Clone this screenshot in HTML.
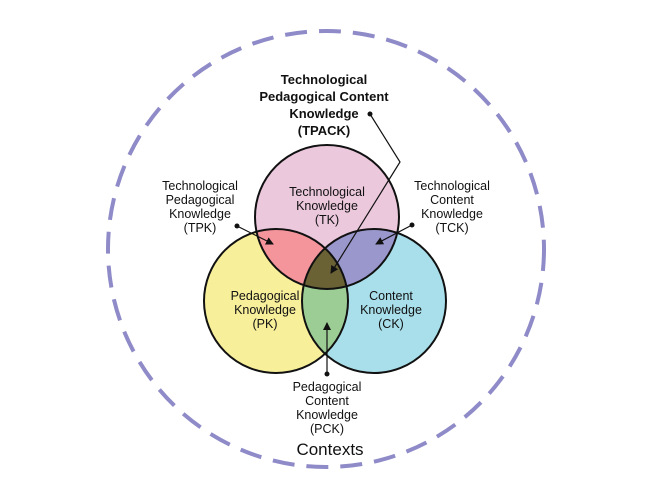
<!DOCTYPE html>
<html><head><style>body{margin:0;background:#fff}svg{display:block}text{font-family:"Liberation Sans",sans-serif;fill:#111}</style></head><body>
<svg width="648" height="504" viewBox="0 0 648 504" xmlns="http://www.w3.org/2000/svg">
<defs>
<clipPath id="tk"><circle cx="327" cy="217" r="72"/></clipPath>
<clipPath id="pk"><circle cx="276" cy="301" r="72"/></clipPath>
<clipPath id="ck"><circle cx="374" cy="301" r="72"/></clipPath>
<marker id="ar" markerWidth="8" markerHeight="8" refX="7" refY="4" orient="auto" markerUnits="userSpaceOnUse"><path d="M0,0 L8,4 L0,8z" fill="#111"/></marker>
</defs>
<circle cx="326" cy="249" r="218" fill="none" stroke="#8f8bc8" stroke-width="4" stroke-dasharray="22 12"/>
<circle cx="327" cy="217" r="72" fill="#ecc8dd"/>
<circle cx="276" cy="301" r="72" fill="#f8ef9b"/>
<circle cx="374" cy="301" r="72" fill="#a9dfea"/>
<circle cx="276" cy="301" r="72" fill="#f4949b" clip-path="url(#tk)"/>
<circle cx="374" cy="301" r="72" fill="#9a97cc" clip-path="url(#tk)"/>
<circle cx="374" cy="301" r="72" fill="#9ccd95" clip-path="url(#pk)"/>
<g clip-path="url(#tk)"><circle cx="374" cy="301" r="72" fill="#6a6235" clip-path="url(#pk)"/></g>
<g fill="none" stroke="#111" stroke-width="2">
<circle cx="327" cy="217" r="72"/><circle cx="276" cy="301" r="72"/><circle cx="374" cy="301" r="72"/>
</g>
<g stroke="#111" stroke-width="1.2" fill="none">
<polyline points="370,114 400,162 331,273" marker-end="url(#ar)"/>
<line x1="237" y1="226" x2="273" y2="244" marker-end="url(#ar)"/>
<line x1="412" y1="225" x2="376" y2="244" marker-end="url(#ar)"/>
<line x1="327" y1="374" x2="327" y2="323" marker-end="url(#ar)"/>
</g>
<g fill="#111"><circle cx="370" cy="114" r="2.5"/><circle cx="237" cy="226" r="2.5"/><circle cx="412" cy="225" r="2.5"/><circle cx="327" cy="374" r="2.5"/></g>
<g font-size="13" text-anchor="middle" font-weight="bold">
<text x="324" y="84">Technological</text><text x="324" y="101">Pedagogical Content</text><text x="324" y="118">Knowledge</text><text x="324" y="135">(TPACK)</text>
</g>
<g font-size="12.5" text-anchor="middle">
<text x="327" y="196">Technological</text><text x="327" y="210">Knowledge</text><text x="327" y="224">(TK)</text>
<text x="200" y="190">Technological</text><text x="200" y="204">Pedagogical</text><text x="200" y="218">Knowledge</text><text x="200" y="232">(TPK)</text>
<text x="452" y="190">Technological</text><text x="452" y="204">Content</text><text x="452" y="218">Knowledge</text><text x="452" y="232">(TCK)</text>
<text x="265" y="300">Pedagogical</text><text x="265" y="314">Knowledge</text><text x="265" y="328">(PK)</text>
<text x="391" y="300">Content</text><text x="391" y="314">Knowledge</text><text x="391" y="328">(CK)</text>
<text x="327" y="391">Pedagogical</text><text x="327" y="405">Content</text><text x="327" y="419">Knowledge</text><text x="327" y="433">(PCK)</text>
</g>
<text x="330" y="455" font-size="17" text-anchor="middle">Contexts</text>
</svg>
</body></html>
